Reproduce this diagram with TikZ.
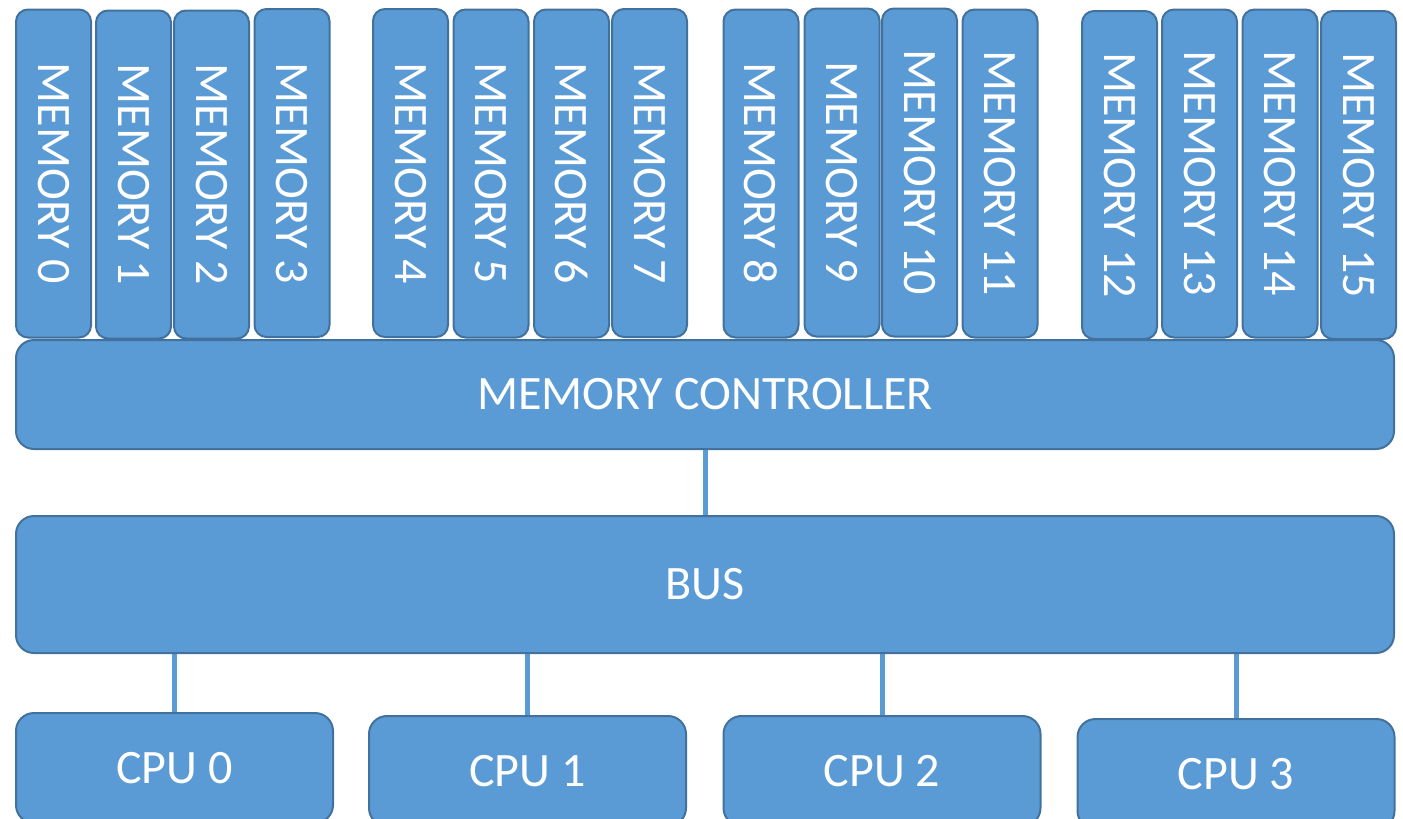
\documentclass[tikz,border=0pt]{standalone}
\usepackage{fontspec}
\setmainfont{Carlito}
\usetikzlibrary{backgrounds}
\definecolor{boxfill}{HTML}{5B9BD5}
\definecolor{boxline}{HTML}{41719C}
\tikzset{
  blk/.style={draw=boxline, fill=boxfill, line width=2pt, text=white, inner sep=0pt,
    font=\fontsize{48}{52}\selectfont},
  membox/.style={blk, rounded corners=12pt, minimum width=75pt, minimum height=328pt},
  widebox/.style={blk, rounded corners=18pt, minimum width=1378pt},
  cpubox/.style={blk, rounded corners=18pt, minimum width=317pt, minimum height=110pt},
  wire/.style={draw=boxfill, line width=5pt}
}
\begin{document}
\begin{tikzpicture}[x=1pt,y=-1pt]
\useasboundingbox (0,0) rectangle (1403,819);
\clip (0,0) rectangle (1403,819);
% memories
\node[membox] (m0)  at (53.5,173.5)  {\rotatebox{-90}{MEMORY 0}};
\node[membox] (m1)  at (133.5,174.5) {\rotatebox{-90}{MEMORY 1}};
\node[membox] (m2)  at (211.5,174.5) {\rotatebox{-90}{MEMORY 2}};
\node[membox] (m3)  at (292,173)     {\rotatebox{-90}{MEMORY 3}};
\node[membox] (m4)  at (410.5,173)   {\rotatebox{-90}{MEMORY 4}};
\node[membox] (m5)  at (491,173.5)   {\rotatebox{-90}{MEMORY 5}};
\node[membox] (m6)  at (571.5,173.5) {\rotatebox{-90}{MEMORY 6}};
\node[membox] (m7)  at (649.5,173)   {\rotatebox{-90}{MEMORY 7}};
\node[membox] (m8)  at (761,173.5)   {\rotatebox{-90}{MEMORY 8}};
\node[membox] (m9)  at (842,172.5)   {\rotatebox{-90}{MEMORY 9}};
\node[membox] (m10) at (919.5,172.5) {\rotatebox{-90}{MEMORY 10}};
\node[membox] (m11) at (1000,173.5)  {\rotatebox{-90}{MEMORY 11}};
\node[membox] (m12) at (1119.5,175)  {\rotatebox{-90}{MEMORY 12}};
\node[membox] (m13) at (1199.5,173.5){\rotatebox{-90}{MEMORY 13}};
\node[membox] (m14) at (1280,173.5)  {\rotatebox{-90}{MEMORY 14}};
\node[membox] (m15) at (1358.5,175)  {\rotatebox{-90}{MEMORY 15}};
% controller and bus
\node[widebox, minimum height=109pt] (mc)  at (705,394.5) {MEMORY CONTROLLER};
\node[widebox, minimum height=137pt] (bus) at (705,584.5) {BUS};
% cpus
\node[cpubox] (cpu0) at (174.5,768) {CPU 0};
\node[cpubox] (cpu1) at (527.5,771) {CPU 1};
\node[cpubox] (cpu2) at (882,771)   {CPU 2};
\node[cpubox] (cpu3) at (1236,774)  {CPU 3};
% connectors
\begin{scope}[on background layer]
\draw[wire] (mc.south) -- (bus.north);
\draw[wire] (cpu0.north) -- (cpu0.north |- bus.south);
\draw[wire] (cpu1.north) -- (cpu1.north |- bus.south);
\draw[wire] (cpu2.north) -- (cpu2.north |- bus.south);
\draw[wire] (cpu3.north) -- (cpu3.north |- bus.south);
\end{scope}
\end{tikzpicture}
\end{document}
